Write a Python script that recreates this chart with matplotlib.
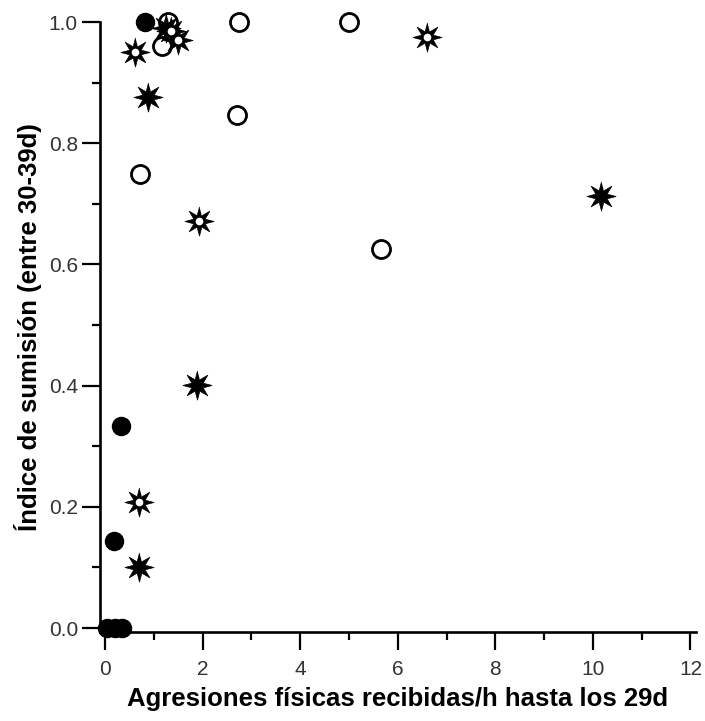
import numpy as np
import matplotlib.pyplot as plt
from matplotlib.ticker import MultipleLocator

# filled circles
fc_x = [0.05, 0.2, 0.35, 0.18, 0.33, 0.82]
fc_y = [0.0, 0.0, 0.0, 0.144, 0.333, 1.0]

# open circles
oc_x = [1.29, 1.17, 2.75, 5.0, 2.7, 0.72, 5.66]
oc_y = [1.0, 0.96, 1.0, 1.0, 0.846, 0.75, 0.625]

# solid stars
ss_x = [1.25, 0.88, 1.88, 10.17, 0.70]
ss_y = [0.99, 0.876, 0.401, 0.713, 0.10]

# stars with white centre
ws_x = [0.61, 1.5, 1.93, 6.6, 0.70, 1.35]
ws_y = [0.95, 0.97, 0.672, 0.975, 0.208, 0.985]

plt.rcParams['font.family'] = ['Liberation Sans', 'DejaVu Sans']

# slender 8-point star
ang = np.pi / 2 + np.arange(16) * np.pi / 8
rad = np.where(np.arange(16) % 2 == 0, 1.0, 0.42)
star = list(zip(rad * np.cos(ang), rad * np.sin(ang)))

fig = plt.figure(figsize=(7.05, 7.21), dpi=100)
ax = fig.add_axes([0.142, 0.1234, 0.845, 0.846])

kw = dict(ls='none', clip_on=False)
ax.plot(oc_x, oc_y, 'o', ms=13, mfc='white', mec='black', mew=2, zorder=3, **kw)
ax.plot(fc_x, fc_y, 'o', ms=13, mfc='black', mec='black', zorder=3, **kw)
ax.plot(ss_x, ss_y, marker=star, ms=21, color='black', mew=0.5, zorder=4, **kw)
ax.plot(ws_x, ws_y, marker=star, ms=21, color='black', mew=0.5, zorder=4, **kw)
ax.plot(ws_x, ws_y, 'o', ms=4.5, mfc='white', mec='white', zorder=5, **kw)

ax.set_xlim(-0.1, 12.11)
ax.set_ylim(-0.0066, 1.0)
ax.xaxis.set_major_locator(MultipleLocator(2))
ax.xaxis.set_minor_locator(MultipleLocator(1))
ax.yaxis.set_major_locator(MultipleLocator(0.2))
ax.yaxis.set_minor_locator(MultipleLocator(0.1))
ax.yaxis.set_major_formatter(plt.FormatStrFormatter('%.1f'))

for s in ['top', 'right']:
    ax.spines[s].set_visible(False)
for s in ['left', 'bottom']:
    ax.spines[s].set_linewidth(1.9)

ax.tick_params(which='major', length=13, width=1.6, labelsize=15, labelcolor='#333333', pad=3)
ax.tick_params(axis='x', which='major', pad=7)
ax.tick_params(which='minor', length=6, width=1.6)

ax.set_xlabel('Agresiones físicas recibidas/h hasta los 29d', fontsize=18.5,
              fontweight='bold', labelpad=6)
ax.set_ylabel('Índice de sumisión (entre 30-39d)', fontsize=18.5,
              fontweight='bold', labelpad=5)

fig.savefig('out.png', dpi=100)
